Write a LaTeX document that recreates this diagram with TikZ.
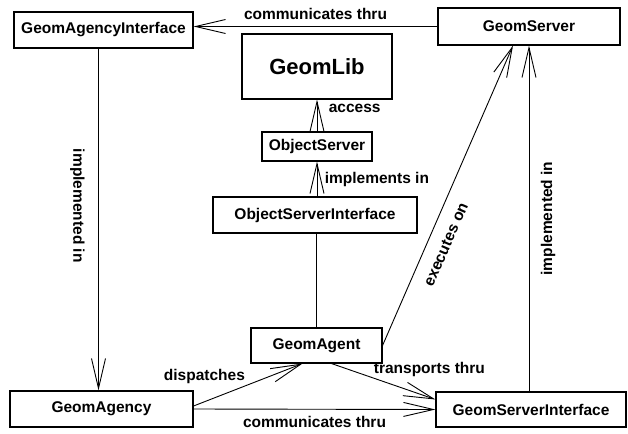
\documentclass[tikz,border=0pt]{standalone}
\usepackage{fontspec}
\setmainfont{Liberation Sans}
\usetikzlibrary{arrows.meta}

\begin{document}
\begin{tikzpicture}[x=1pt,y=-1pt,
  >={Straight Barb[length=30pt,width=14pt]},
  every node/.style={font=\fontsize{15.5}{18}\selectfont\bfseries},
  box/.style={draw,line width=1.1pt},
  link/.style={->,line width=0.9pt}]
\useasboundingbox (0,0) rectangle (628,433);
\node[box,minimum width=179pt,minimum height=36pt] (GAI) at (103.5,30) {GeomAgencyInterface};
\node[box,minimum width=182pt,minimum height=37pt] (GS) at (529,26.5) {GeomServer};
\node[box,minimum width=150pt,minimum height=65pt,font=\fontsize{22}{26}\selectfont\bfseries] (GL) at (317,66.5) {GeomLib};
\node[box,minimum width=110pt,minimum height=29pt] (OS) at (317,146.5) {ObjectServer};
\node[box,minimum width=204pt,minimum height=36pt] (OSI) at (315,215) {ObjectServerInterface};
\node[box,minimum width=131pt,minimum height=35pt] (GAt) at (316.5,345.5) {GeomAgent};
\node[box,minimum width=183pt,minimum height=36pt] (GAg) at (101.5,409) {GeomAgency};
\node[box,minimum width=190pt,minimum height=35pt] (GSI) at (531,409.5) {GeomServerInterface};
\draw[link] (GS.west) -- (GS.west -| GAI.east) node[midway,above=3pt] {communicates thru};
\draw[link] ([xshift=-5pt]GAI.south) -- ([xshift=-5pt]GAI.south |- GAg.north) node[pos=0.46,sloped,below=10pt] {implemented in};
\draw[link] (OS.north) -- (OS.north |- GL.south) node[pos=0.72,right=8pt] {access};
\draw[link] (OS.south |- OSI.north) -- (OS.south) node[midway,right=4pt] {implements in};
\draw[line width=0.9pt] (GAt.north) -- (GAt.north |- OSI.south);
\draw[link] (GAt.east) -- ([xshift=-16pt]GS.south) node[pos=0.36,sloped,below=9pt] {executes on};
\draw[link] (GS.south |- GSI.north) -- (GS.south) node[midway,sloped,below=8pt] {implemented in};
\draw[link] ([yshift=3pt]GAg.east) -- ([xshift=-14pt]GAt.south) node[pos=0.1,above=14pt] {dispatches};
\draw[link] ([xshift=15pt]GAt.south) -- ([yshift=10pt]GSI.west) node[pos=0.4,above right=-3pt] {transports thru};
\draw[link] (GAg.east) -- (GSI.west) node[midway,below=3pt] {communicates thru};
\end{tikzpicture}
\end{document}
